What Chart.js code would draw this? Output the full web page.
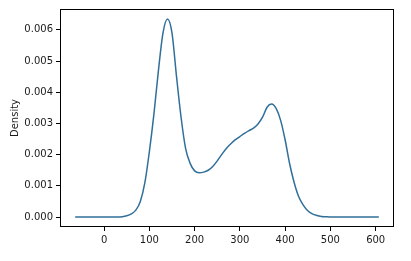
<!DOCTYPE html>
<html>
<head>
<meta charset="utf-8">
<script src="https://cdn.jsdelivr.net/npm/chart.js@4"></script>
<style>
html,body{margin:0;padding:0;background:#fff;}
canvas{display:block;}
</style>
</head>
<body>
<canvas id="c" width="411" height="261"></canvas>
<script>
const xValues = [-64, 0, 30, 40, 50, 60, 70, 80, 90, 100, 110, 120, 130, 140, 150, 160, 170, 180, 190, 200,
  210, 220, 230, 240, 250, 260, 270, 280, 290, 300, 310, 320, 330, 340, 350, 360, 370, 380, 390, 400,
  410, 420, 430, 440, 450, 460, 470, 480, 490, 500, 607];
const densityValues = [0, 0, 0, 0.00001, 0.00004, 0.0001, 0.00022, 0.0005, 0.0011, 0.0021, 0.0033, 0.0047, 0.0059, 0.00635, 0.0059, 0.0045, 0.0032, 0.0022, 0.00172, 0.00148,
  0.00142, 0.00144, 0.0015, 0.00162, 0.0018, 0.00201, 0.0022, 0.00235, 0.00248, 0.00258, 0.00268, 0.00277, 0.00285, 0.00298, 0.0032, 0.00352, 0.00362, 0.00348, 0.0031, 0.00247,
  0.0017, 0.0011, 0.00065, 0.00038, 0.0002, 0.0001, 0.00005, 0.00002, 0.00001, 0, 0];
const xTicks = [0, 100, 200, 300, 400, 500, 600];
const yTicks = [0, 0.001, 0.002, 0.003, 0.004, 0.005, 0.006];
const yLabel = 'Density';

const points = xValues.map((x, i) => ({x: x, y: densityValues[i]}));
const font = {family: 'DejaVu Sans', size: 10};
const textColor = '#1a1a1a';

const frame = {
  id: 'frame',
  afterDraw(chart) {
    const a = chart.chartArea, ctx = chart.ctx;
    ctx.save();
    ctx.strokeStyle = '#000';
    ctx.lineWidth = 1;
    ctx.strokeRect(Math.round(a.left) + 0.5, Math.round(a.top) + 0.5,
      Math.round(a.right - a.left) - 1, Math.round(a.bottom - a.top) - 1);
    ctx.restore();
  }
};

new Chart(document.getElementById('c'), {
  type: 'line',
  data: {
    datasets: [{
      data: points,
      borderColor: '#306f9a',
      borderWidth: 1.5,
      pointRadius: 0,
      fill: false,
      tension: 0.4,
      cubicInterpolationMode: 'monotone'
    }]
  },
  options: {
    responsive: false,
    animation: false,
    devicePixelRatio: 1,
    layout: {padding: {top: 9, right: 17, left: 0, bottom: 0}},
    plugins: {legend: {display: false}, tooltip: {enabled: false}},
    scales: {
      x: {
        type: 'linear',
        min: -97.5,
        max: 640.5,
        afterBuildTicks: s => { s.ticks = xTicks.map(v => ({value: v})); },
        afterFit: s => { s.height = 34; },
        grid: {drawOnChartArea: false, drawTicks: true, tickLength: 4, tickColor: '#000'},
        border: {display: false},
        ticks: {font: font, color: textColor, padding: 3, maxRotation: 0, autoSkip: false,
          callback: v => String(v)}
      },
      y: {
        type: 'linear',
        min: -0.00032,
        max: 0.00667,
        afterBuildTicks: s => { s.ticks = yTicks.map(v => ({value: v})); },
        afterFit: s => { s.width = 60; },
        grid: {drawOnChartArea: false, drawTicks: true, tickLength: 4, tickColor: '#000'},
        border: {display: false},
        title: {display: true, text: yLabel, font: font, color: textColor, padding: {top: 9, bottom: 0}},
        ticks: {font: font, color: textColor, padding: 3, autoSkip: false,
          callback: v => v.toFixed(3)}
      }
    }
  },
  plugins: [frame]
});
</script>
</body>
</html>
